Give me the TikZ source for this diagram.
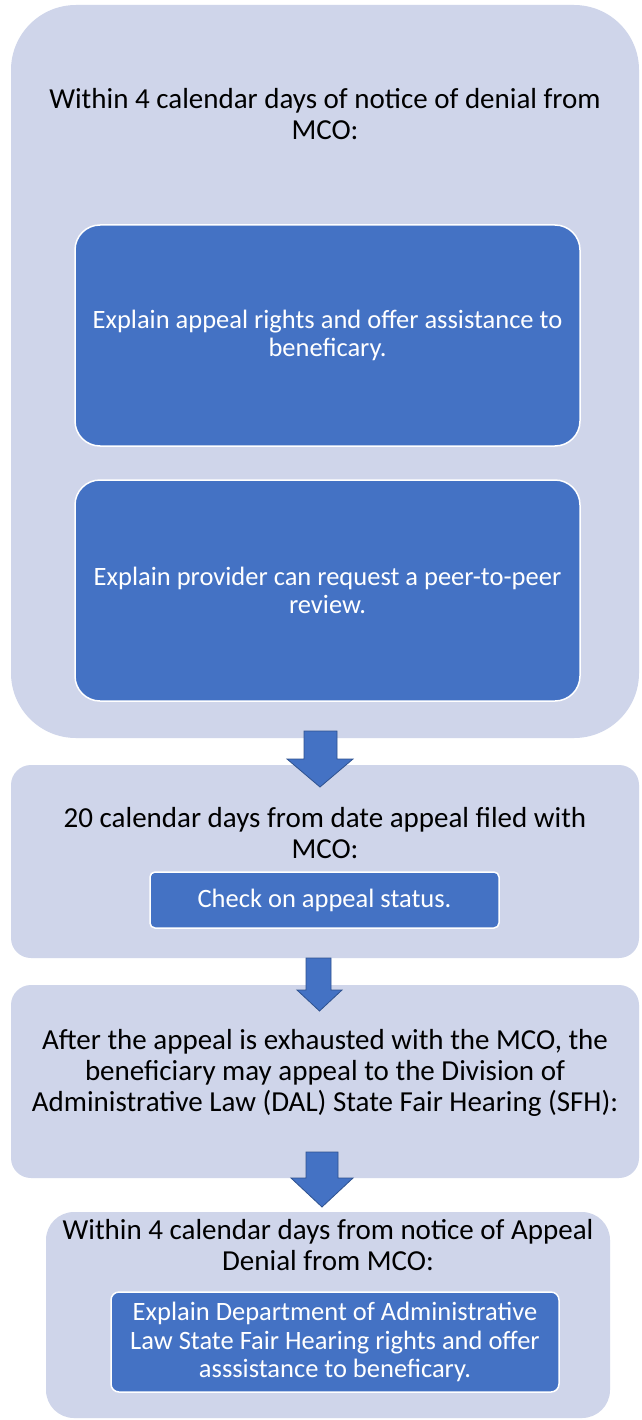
\documentclass[tikz,border=0pt]{standalone}
\usepackage{fontspec}
\setmainfont{Carlito}
\definecolor{lightbox}{HTML}{CFD5EA}
\definecolor{accent}{HTML}{4472C4}
\definecolor{accentdark}{HTML}{2F528F}
\begin{document}
\begin{tikzpicture}[x=1pt,y=-1pt,
  panel/.style={rectangle, fill=lightbox, draw=none, inner sep=0pt, outer sep=0pt},
  stepbox/.style={rectangle, fill=accent, draw=white, line width=1.5pt, inner sep=0pt, outer sep=0pt,
    text=white, align=center, font=\fontsize{26.5}{28.5}\selectfont},
  heading/.style={align=center, text=black, inner sep=0pt, font=\fontsize{29}{31}\selectfont},
  blockarrow/.style={fill=accent, draw=accentdark, line width=0.8pt, line join=miter}]
\useasboundingbox (0,0) rectangle (641,1420);
\fill[white] (0,0) rectangle (641,1420);

% panel 1
\node[panel, minimum width=628pt, minimum height=733pt, rounded corners=65pt] (p1) at (325,371.5) {};
\node[heading] (h1) at (325,114) {Within 4 calendar days of notice of denial from\\MCO:};
\node[stepbox, minimum width=505pt, minimum height=221pt, rounded corners=25pt] (s1) at (327.5,335.5)
  {Explain appeal rights and offer assistance to\\beneficary.};
\node[stepbox, minimum width=505pt, minimum height=221pt, rounded corners=25pt] (s2) at (327.5,590.5)
  {Explain provider can request a peer-to-peer\\review.};

% panel 2
\node[panel, minimum width=628pt, minimum height=193pt, rounded corners=20pt] (p2) at (325,861.5) {};
\node[heading] (h2) at (325,833) {20 calendar days from date appeal filed with\\MCO:};
\node[stepbox, minimum width=349pt, minimum height=56pt, rounded corners=5pt] (s3) at (324.5,900)
  {Check on appeal status.};

% panel 3
\node[panel, minimum width=628pt, minimum height=193pt, rounded corners=20pt] (p3) at (325,1081.5) {};
\node[heading] (h3) at (325,1073) {After the appeal is exhausted with the MCO, the\\beneficiary may appeal to the Division of\\Administrative Law (DAL) State Fair Hearing (SFH):};

% panel 4
\node[panel, minimum width=564pt, minimum height=206pt, rounded corners=28pt] (p4) at (328,1315) {};
\node[heading] (h4) at (328,1245) {Within 4 calendar days from notice of Appeal\\Denial from MCO:};
\node[stepbox, minimum width=448pt, minimum height=100pt, rounded corners=8pt] (s4) at (335,1342)
  {Explain Department of Administrative\\Law State Fair Hearing rights and offer\\asssistance to beneficary.};

% block arrows
\draw[blockarrow] (304,731) -- (337,731) -- (337,759) -- (353,759) -- (320,787) -- (287,759) -- (304,759) -- cycle;
\draw[blockarrow] (306,958) -- (331,958) -- (331,990) -- (342,990) -- (319.5,1011) -- (297,990) -- (306,990) -- cycle;
\draw[blockarrow] (306,1152) -- (338,1152) -- (338,1178) -- (353,1178) -- (322,1207) -- (291,1178) -- (306,1178) -- cycle;
\end{tikzpicture}
\end{document}
